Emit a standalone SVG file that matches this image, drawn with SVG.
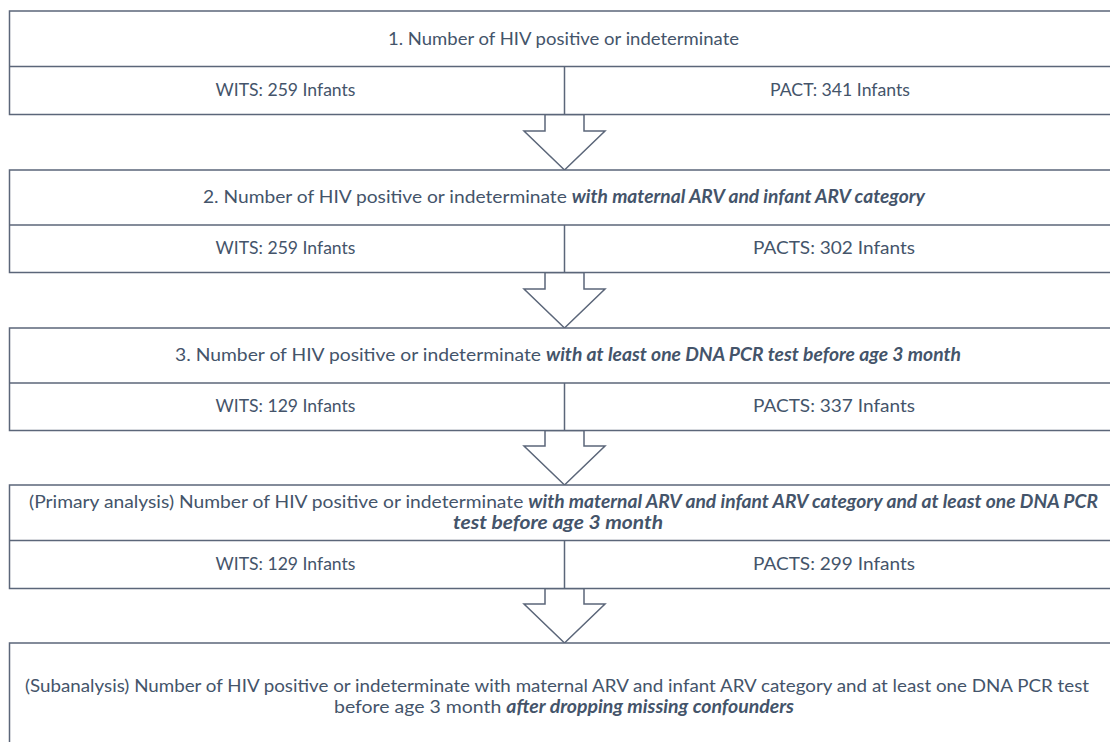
<svg xmlns="http://www.w3.org/2000/svg" width="1110" height="742" viewBox="0 0 1110 742">
<style>
.box{fill:#ffffff;stroke:#5b6679;stroke-width:1.5}
.ln{stroke:#5b6679;stroke-width:1.5;fill:none}
.arr{fill:#ffffff;stroke:#5b6679;stroke-width:1.5;stroke-linejoin:miter}
text{font-family:Lato,"Liberation Sans",sans-serif;font-size:18px;fill:#44546a;text-anchor:middle}
.bi{font-weight:bold;font-style:italic}
</style>
<rect width="1110" height="742" fill="#ffffff"/>
<g id="connectors">
<polygon class="arr" points="545,114.5 545,131 524,131 564.5,170 605,131 584,131 584,114.5"/>
<polygon class="arr" points="545,272.5 545,289 524,289 564.5,328 605,289 584,289 584,272.5"/>
<polygon class="arr" points="545,430.5 545,446 524,446 564.5,485 605,446 584,446 584,430.5"/>
<polygon class="arr" points="545,588.5 545,604 524,604 564.5,643 605,604 584,604 584,588.5"/>
</g>
<g id="node1">
<rect class="box" x="9.5" y="11" width="1110" height="103.5"/>
<line class="ln" x1="9.5" y1="66.5" x2="1120" y2="66.5"/>
<line class="ln" x1="564.5" y1="66.5" x2="564.5" y2="114.5"/>
<text x="563.5" y="45" textLength="351" lengthAdjust="spacingAndGlyphs">1. Number of HIV positive or indeterminate</text>
<text x="285.5" y="96" textLength="140" lengthAdjust="spacingAndGlyphs">WITS: 259 Infants</text>
<text x="840" y="96" textLength="140" lengthAdjust="spacingAndGlyphs">PACT: 341 Infants</text>
</g>
<g id="node2">
<rect class="box" x="9.5" y="170" width="1110" height="102.5"/>
<line class="ln" x1="9.5" y1="225" x2="1120" y2="225"/>
<line class="ln" x1="564.5" y1="225" x2="564.5" y2="272.5"/>
<text x="564" y="203" textLength="722" lengthAdjust="spacingAndGlyphs">2. Number of HIV positive or indeterminate <tspan class="bi">with maternal ARV and infant ARV category</tspan></text>
<text x="285.5" y="254" textLength="140" lengthAdjust="spacingAndGlyphs">WITS: 259 Infants</text>
<text x="834" y="254" textLength="162" lengthAdjust="spacingAndGlyphs">PACTS: 302 Infants</text>
</g>
<g id="node3">
<rect class="box" x="9.5" y="328" width="1110" height="102.5"/>
<line class="ln" x1="9.5" y1="383" x2="1120" y2="383"/>
<line class="ln" x1="564.5" y1="383" x2="564.5" y2="430.5"/>
<text x="568" y="361" textLength="786" lengthAdjust="spacingAndGlyphs">3. Number of HIV positive or indeterminate <tspan class="bi">with at least one DNA PCR test before age 3 month</tspan></text>
<text x="285.5" y="412" textLength="140" lengthAdjust="spacingAndGlyphs">WITS: 129 Infants</text>
<text x="834" y="412" textLength="162" lengthAdjust="spacingAndGlyphs">PACTS: 337 Infants</text>
</g>
<g id="node4">
<rect class="box" x="9.5" y="485" width="1110" height="103.5"/>
<line class="ln" x1="9.5" y1="540.5" x2="1120" y2="540.5"/>
<line class="ln" x1="564.5" y1="540.5" x2="564.5" y2="588.5"/>
<text x="563.5" y="508" textLength="1069" lengthAdjust="spacingAndGlyphs">(Primary analysis) Number of HIV positive or indeterminate <tspan class="bi">with maternal ARV and infant ARV category and at least one DNA PCR</tspan></text>
<text x="558" y="529" class="bi" textLength="210" lengthAdjust="spacingAndGlyphs">test before age 3 month</text>
<text x="285.5" y="570" textLength="140" lengthAdjust="spacingAndGlyphs">WITS: 129 Infants</text>
<text x="834" y="570" textLength="162" lengthAdjust="spacingAndGlyphs">PACTS: 299 Infants</text>
</g>
<g id="node5">
<rect class="box" x="9.5" y="643" width="1110" height="120"/>
<text x="557" y="692" textLength="1064" lengthAdjust="spacingAndGlyphs">(Subanalysis) Number of HIV positive or indeterminate with maternal ARV and infant ARV category and at least one DNA PCR test</text>
<text x="564" y="713" textLength="460" lengthAdjust="spacingAndGlyphs">before age 3 month <tspan class="bi">after dropping missing confounders</tspan></text>
</g>
</svg>
